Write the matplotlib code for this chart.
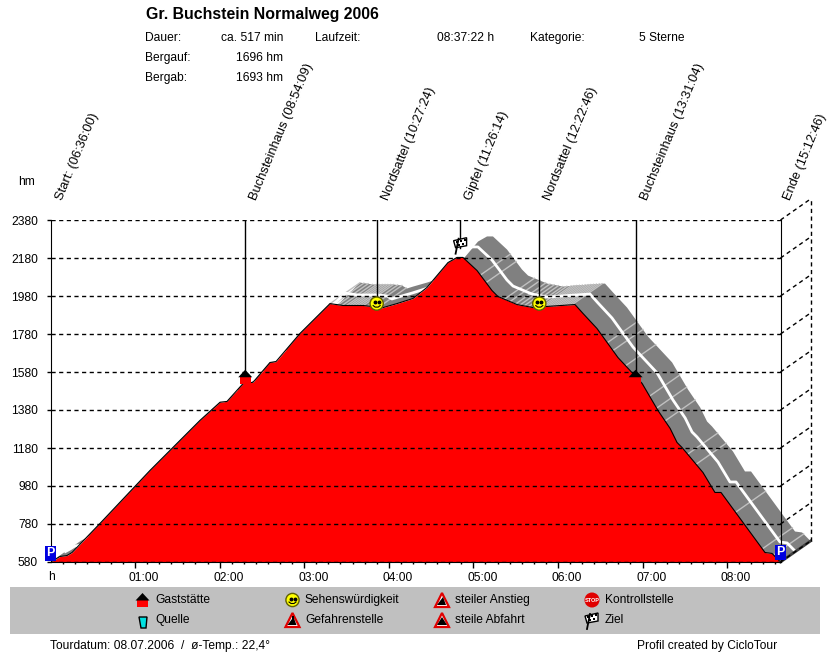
import matplotlib
matplotlib.use('Agg')
import matplotlib.pyplot as plt
from matplotlib.patches import Circle, Polygon, Rectangle
from matplotlib.transforms import ScaledTranslation

plt.rcParams['font.family'] = ['Liberation Sans', 'DejaVu Sans']

################### DATA ###################

# profile: minutes since start / height in hm
time_min = [0, 3.2, 6.7, 11.7, 15.3, 35.1, 70.6, 106, 120.3, 125.2, 136.6, 143.7, 155.7, 160, 177,
            198.3, 207.5, 221.7, 228, 231.6, 235.9, 245.8, 257.2, 267.1, 282, 288.4, 292.6, 302.6,
            313.2, 317.5, 331, 342.3, 352.3, 372.1, 377.8, 387.7, 402.6, 419.7, 431, 439.6, 444.5,
            448, 462.9, 471.4, 475.7, 491.3, 506.9, 511.9, 517.9]
elev_hm = [580, 593, 609, 614, 630, 783, 1062, 1325, 1421, 1425, 1519, 1526, 1630, 1635, 1783,
           1940, 1930, 1930, 1925, 1909, 1919, 1940, 1967, 2025, 2156, 2183, 2183, 2114,
           2009, 1977, 1935, 1919, 1925, 1935, 1888, 1809, 1656, 1520, 1377, 1283, 1209,
           1183, 1051, 946, 946, 788, 630, 625, 580]

# light stripes in the shaded band
stripe_min = [198, 201, 204, 207, 210, 212, 214, 216, 218, 220, 222, 225, 228, 231, 305, 309,
              322, 326, 330, 333, 336, 339, 342, 345, 348, 350, 352, 354, 356, 358, 360, 362,
              364, 366, 368, 370, 395, 399, 408, 425, 430, 436, 452, 458, 486, 505, 513]

event_names = ['Start:', 'Buchsteinhaus', 'Nordsattel', 'Gipfel', 'Nordsattel', 'Buchsteinhaus', 'Ende']
event_clock = ['06:36:00', '08:54:09', '10:27:24', '11:26:14', '12:22:46', '13:31:04', '15:12:46']
event_height = [580, 1570, 1940, 2235, 1940, 1570, 580]

y_ticks = [580, 780, 980, 1180, 1380, 1580, 1780, 1980, 2180, 2380]
x_ticks = [60, 120, 180, 240, 300, 360, 420, 480]
x_labels = ['01:00', '02:00', '03:00', '04:00', '05:00', '06:00', '07:00', '08:00']

# depth of the 3d wall
depth_min = 21.3
depth_hm = 110.5


def clock_to_min(s):
    h, m, sec = s.split(':')
    return int(h) * 60 + int(m) + int(sec) / 60 - 6 * 60 - 36


################### FIGURE ###################

fig = plt.figure(figsize=(8.3, 6.52), dpi=100, facecolor='white')
ax = fig.add_axes([50.5 / 830, 1 - 562 / 652, 730 / 830, 342 / 652])
ax.set_xlim(0, 517.9)
ax.set_ylim(580, 2380)
ax.patch.set_visible(False)
ax.spines['top'].set_visible(False)

# shaded band behind the profile
back_t = [t + depth_min for t in time_min]
back_h = [h + depth_hm for h in elev_hm]
ax.fill(time_min + back_t[::-1], elev_hm + back_h[::-1], color='#808080', lw=0, zorder=1, clip_on=False)
for t in stripe_min:
    h = None
    for i in range(len(time_min) - 1):
        if time_min[i] <= t <= time_min[i + 1]:
            f = (t - time_min[i]) / (time_min[i + 1] - time_min[i])
            h = elev_hm[i] + f * (elev_hm[i + 1] - elev_hm[i])
    ax.plot([t, t + depth_min], [h, h + depth_hm], color='#c0c0c0', lw=1, zorder=1.1, clip_on=False)
ax.plot([t + depth_min / 2 for t in time_min], [h + depth_hm / 2 for h in elev_hm],
        color='white', lw=2, zorder=1.2, clip_on=False)

# red profile
ax.fill_between(time_min, elev_hm, 580, color='#ff0000', lw=0, zorder=1.5)
ax.plot(time_min, elev_hm, color='black', lw=0.8, zorder=1.6)

# bottom edge of the wall
ax.plot([517.9, 517.9 + depth_min], [580, 580 + depth_hm], color='#404040', lw=2, zorder=1.7, clip_on=False)

# grid, wall
ax.set_yticks(y_ticks)
ax.set_yticklabels([str(v) for v in y_ticks], fontsize=8.64)
ax.tick_params(axis='y', length=3, pad=6, width=1)
ax.set_axisbelow(False)
ax.grid(axis='y', color='black', lw=1, ls=(0, (3, 2.5)))
for v in y_ticks:
    ax.plot([517.9, 517.9 + depth_min], [v, v + depth_hm], color='black', lw=1, ls=(0, (3, 2.5)),
            zorder=2, clip_on=False)
ax.plot([517.9 + depth_min] * 2, [580 + depth_hm, 2380 + depth_hm], color='black', lw=1, ls=(0, (3, 2.5)),
        zorder=2, clip_on=False)

# time axis
ax.set_xticks(x_ticks)
ax.set_xticklabels(x_labels, fontsize=8.64)
ax.set_xticks([i * 60 / 7 for i in range(1, 61)], minor=True)
ax.tick_params(axis='x', which='major', length=4, width=1, pad=3)
ax.tick_params(axis='x', which='minor', length=1.5, width=1)
shift = ScaledTranslation(9 / 100, 0, fig.dpi_scale_trans)
for lab in ax.get_xticklabels():
    lab.set_transform(lab.get_transform() + shift)

# leader lines
event_min = [clock_to_min(c) for c in event_clock]
for t, h in zip(event_min[1:-1], event_height[1:-1]):
    ax.plot([t, t], [h, 2380], color='black', lw=1, zorder=3)

################### OVERLAY IN PIXELS ###################

ov = fig.add_axes([0, 0, 1, 1])
ov.set_xlim(0, 830)
ov.set_ylim(652, 0)
ov.axis('off')


def to_px(t, h):
    return ov.transData.inverted().transform(ax.transData.transform((t, h)))


def txt(x, y, s, **kw):
    kw.setdefault('fontsize', 8.64)
    kw.setdefault('va', 'center')
    ov.text(x, y, s, **kw)


def icon_house(x, y):
    ov.add_patch(Rectangle((x - 5.5, y), 11, 7, color='#ff0000', lw=0, zorder=5))
    ov.add_patch(Polygon([(x - 7, y + 0.5), (x, y - 7), (x + 7, y + 0.5)], color='black', lw=0, zorder=6))


def icon_smile(x, y):
    ov.add_patch(Circle((x, y), 6.6, fc='#ffff00', ec='#606000', lw=1, zorder=5))
    ov.plot([x - 2, x + 2], [y - 1.5, y - 1.5], ls='none', marker='o', ms=1.8, color='black', zorder=6)
    ov.plot([x - 3.5, x - 1.5, x + 1.5, x + 3.5], [y + 2, y + 3.5, y + 3.5, y + 2], color='black', lw=0.8, zorder=6)


def icon_flag(x, y):
    ov.plot([x - 4, x - 1], [y + 9, y - 6], color='black', lw=1.3, zorder=6)
    ov.add_patch(Polygon([(x - 6, y - 4), (x + 7, y - 7), (x + 7, y + 1), (x - 4, y + 3)], fc='white', ec='black', lw=1, zorder=5))
    for cx, cy in [(x - 3, y - 3), (x + 1, y - 4), (x + 5, y - 5), (x - 1, y), (x + 3, y - 1)]:
        ov.add_patch(Rectangle((cx - 1, cy - 1), 2.2, 2.2, color='black', lw=0, zorder=6))


def icon_p(x, y):
    ov.add_patch(Rectangle((x - 5.5, y - 7.5), 11, 15, color='#0000e0', lw=0, zorder=5))
    ov.text(x, y - 0.5, 'P', color='white', fontsize=9, fontweight='bold', ha='center', va='center', zorder=6)


def icon_triangle(x, y, flip=False):
    ov.add_patch(Polygon([(x - 7, y + 7), (x, y - 7), (x + 7, y + 7)], fc='white', ec='#e00000', lw=1.6, zorder=5))
    if flip:
        ov.add_patch(Polygon([(x - 5, y + 5), (x, y - 3), (x + 5, y + 5)], color='black', lw=0, zorder=6))
    else:
        ov.add_patch(Polygon([(x - 5, y + 5), (x + 1, y - 3), (x + 4, y + 5)], color='black', lw=0, zorder=6))


# markers on the profile
icon_p(*to_px(0, 625))
icon_p(*to_px(517.9, 630))
icon_house(*to_px(event_min[1], 1555))
icon_house(*to_px(event_min[5], 1555))
icon_smile(*to_px(event_min[2], 1940))
icon_smile(*to_px(event_min[4], 1940))
icon_flag(*to_px(event_min[3], 2250))

# rotated event labels
for name, clock, t in zip(event_names, event_clock, event_min):
    x = to_px(t, 580)[0] + 14
    txt(x, 202, f'{name} ({clock})', fontsize=9.3, rotation=67.5, rotation_mode='anchor', ha='left', va='bottom')

txt(18, 182, 'hm')
txt(48, 577, 'h')

# header
txt(146, 14, 'Gr. Buchstein Normalweg 2006', fontsize=11.4, fontweight='bold')
txt(145, 38, 'Dauer:')
txt(221, 38, 'ca. 517 min')
txt(315, 38, 'Laufzeit:')
txt(437, 38, '08:37:22 h')
txt(530, 38, 'Kategorie:')
txt(639, 38, '5 Sterne')
txt(145, 58, 'Bergauf:')
txt(236, 58, '1696 hm')
txt(145, 78, 'Bergab:')
txt(236, 78, '1693 hm')

# legend
ov.add_patch(Rectangle((10, 587), 810, 47, color='#c0c0c0', lw=0, zorder=1))
txt(155, 600, 'Gaststätte')
txt(155, 620, 'Quelle')
txt(305, 600, 'Sehenswürdigkeit')
txt(305, 620, 'Gefahrenstelle')
txt(455, 600, 'steiler Anstieg')
txt(455, 620, 'steile Abfahrt')
txt(605, 600, 'Kontrollstelle')
txt(605, 620, 'Ziel')

icon_house(142.5, 600)
ov.add_patch(Polygon([(139, 617), (147, 617), (146, 628), (141, 628)], fc='#00e0e0', ec='black', lw=1, zorder=5))
icon_smile(292.5, 600)
icon_triangle(292.5, 620)
ov.add_patch(Rectangle((291.5, 616), 2, 6, color='black', lw=0, zorder=6))
icon_triangle(442, 600)
icon_triangle(442, 620, flip=True)
ov.add_patch(Circle((592, 600), 7.5, color='#e00000', lw=0, zorder=5))
ov.text(592, 600, 'STOP', color='white', fontsize=4, fontweight='bold', ha='center', va='center', zorder=6)
icon_flag(591, 620)

# footer
txt(50, 646, 'Tourdatum: 08.07.2006  /  ø-Temp.: 22,4°')
txt(637, 646, 'Profil created by CicloTour')

fig.savefig('out.png', dpi=100)
